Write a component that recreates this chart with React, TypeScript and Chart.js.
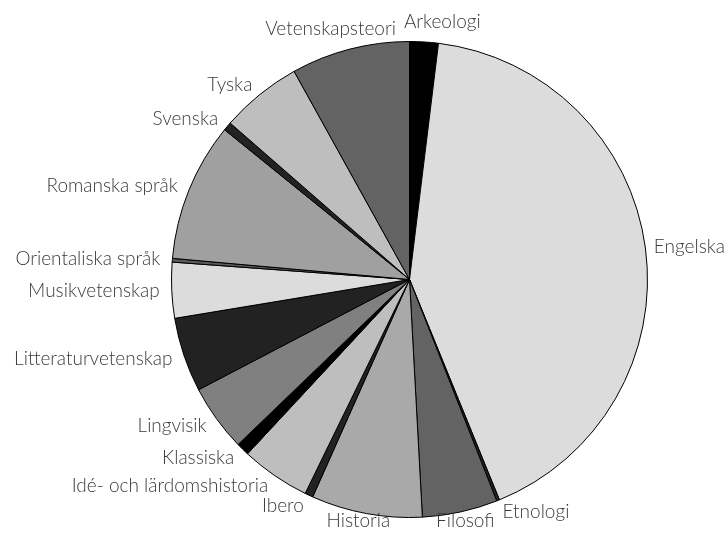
import React, { useEffect, useRef } from "react";
import { Chart, registerables } from "chart.js";

Chart.register(...registerables);

const categories = [
  "Arkeologi",
  "Engelska",
  "Etnologi",
  "Filosofi",
  "Historia",
  "Ibero",
  "Idé- och lärdomshistoria",
  "Klassiska",
  "Lingvisik",
  "Litteraturvetenskap",
  "Musikvetenskap",
  "Orientaliska språk",
  "Romanska språk",
  "Svenska",
  "Tyska",
  "Vetenskapsteori",
];

const values = [7, 150.8, 0.7, 18.4, 27.1, 2, 16.9, 3.2, 16.3, 18.2, 13.6, 0.9, 33.9, 2.1, 19.9, 29];

const sliceColors = [
  "#000000",
  "#dcdcdc",
  "#222222",
  "#636363",
  "#a9a9a9",
  "#222222",
  "#bebebe",
  "#000000",
  "#808080",
  "#222222",
  "#dcdcdc",
  "#5a5a5a",
  "#a0a0a0",
  "#222222",
  "#bebebe",
  "#636363",
];

const outsideLabels = {
  id: "outsideLabels",
  afterDatasetsDraw(chart: any) {
    const ctx = chart.ctx;
    const meta = chart.getDatasetMeta(0);
    ctx.save();
    ctx.font = "300 19px Lato";
    ctx.fillStyle = "#3a3a3a";
    ctx.textBaseline = "middle";
    ctx.textAlign = "center";
    const h = 17;
    const gap = 8;
    const boxes: any[] = meta.data.map((arc: any, i: number) => {
      const { x, y, startAngle, endAngle, outerRadius } = arc.getProps(
        ["x", "y", "startAngle", "endAngle", "outerRadius"],
        true
      );
      const mid = (startAngle + endAngle) / 2;
      const cs = Math.cos(mid);
      const sn = Math.sin(mid);
      const D = outerRadius + 12;
      const ax = x + D * cs;
      const ay = y + D * sn;
      const label = categories[i];
      const w = ctx.measureText(label).width;
      let cx: number;
      let cy: number;
      if (cs > 0.3) {
        cx = ax + w / 2;
        cy = ay;
      } else if (cs < -0.3) {
        cx = ax - w / 2;
        cy = ay;
      } else {
        cx = ax + (cs * w) / 2;
        cy = ay + (sn * h) / 2;
      }
      cy = Math.max(h + 3, Math.min(chart.height - h, cy));
      return { label, cx, cy, w, tx: -sn, ty: cs };
    });
    const n = boxes.length;
    const order: number[] = [];
    for (let i = 1; i < n; i++) order.push(i);
    order.push(0);
    order.forEach((i) => {
      const b = boxes[i];
      const p = boxes[(i - 1 + n) % n];
      const ox = (b.w + p.w) / 2 + gap - Math.abs(b.cx - p.cx);
      const oy = h - Math.abs(b.cy - p.cy);
      if (ox > 0 && oy > 0) {
        if (Math.abs(b.tx) >= Math.abs(b.ty)) {
          b.cx += Math.sign(b.tx) * ox;
        } else {
          b.cy += Math.sign(b.ty) * oy;
        }
      }
    });
    boxes.forEach((b) => {
      const cx = Math.max(b.w / 2 + 3, Math.min(chart.width - b.w / 2 - 3, b.cx));
      ctx.fillText(b.label, cx, b.cy);
    });
    ctx.restore();
  },
};

export default function App() {
  const ref = useRef<HTMLCanvasElement | null>(null);
  useEffect(() => {
    if (!ref.current) return;
    const chart = new Chart(ref.current, {
      type: "pie",
      data: {
        labels: categories,
        datasets: [
          {
            data: values,
            backgroundColor: sliceColors,
            borderColor: "#000000",
            borderWidth: 1,
          },
        ],
      },
      options: {
        responsive: false,
        animation: false,
        devicePixelRatio: 1,
        layout: { padding: { left: 171, right: 80, top: 41, bottom: 20 } },
        plugins: {
          legend: { display: false },
          tooltip: { enabled: false },
        },
      },
      plugins: [outsideLabels],
    });
    return () => chart.destroy();
  }, []);
  return (
    <div style={{ position: "absolute", left: 0, top: 0, width: 728, height: 538, background: "#fff" }}>
      <canvas ref={ref} width={728} height={538} />
    </div>
  );
}
